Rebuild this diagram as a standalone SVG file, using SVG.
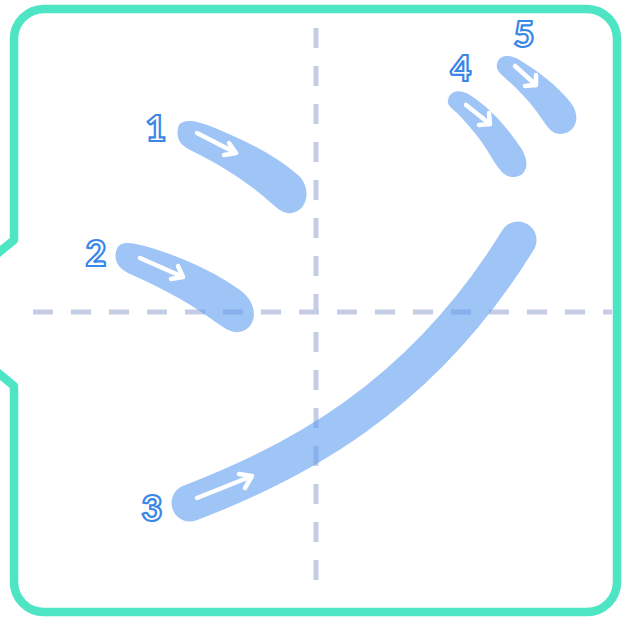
<svg xmlns="http://www.w3.org/2000/svg" width="623" height="617" viewBox="0 0 623 617">
<style>
.frame{fill:#ffffff;stroke:#4de5c4;stroke-width:8.5;stroke-linejoin:round}
.guide{fill:none;stroke:#c5cce5;stroke-width:5;stroke-dasharray:20 18}
.brush{fill:#5f9cf0;fill-opacity:0.6}
.brushline{fill:none;stroke:#5f9cf0;stroke-opacity:0.6;stroke-width:37;stroke-linecap:round}
.arrow{fill:none;stroke:#ffffff;stroke-width:4.5;stroke-linecap:round;stroke-linejoin:round}
.num{font-family:Lato,"DejaVu Sans",sans-serif;font-weight:900;font-size:36px;fill:#ffffff;stroke:#3a87e8;stroke-width:2.2;text-anchor:middle}
</style>
<g id="frame">
<path class="frame" d="M44,9 H587 A30,30 0 0 1 617,39 V582 A30,30 0 0 1 587,612 H44 A30,30 0 0 1 14,582 V386 L-8,368 V258 L14,240 V39 A30,30 0 0 1 44,9 Z"/>
</g>
<g id="guides">
<line class="guide" x1="316" y1="28" x2="316" y2="596"/>
<line class="guide" x1="33" y1="312" x2="612" y2="312"/>
</g>
<g id="stroke-1">
<path class="brush" d="M178,128 C180,118 195,120 210,126 C245,140 275,155 298,175 C312,188 308,210 292,213 C282,215 274,205 262,195 C240,177 215,162 190,150 C180,145 176,138 178,128 Z"/>
<path class="arrow" d="M197,133 L236,153 M229,143 L236,153 L224,155"/>
<text class="num" x="156" y="141">1</text>
</g>
<g id="stroke-2">
<path class="brush" d="M116,252 C118,240 130,242 145,246 C180,256 215,272 240,290 C258,303 258,325 243,331 C232,335 224,328 210,318 C185,300 155,285 128,273 C118,268 114,260 116,252 Z"/>
<path class="arrow" d="M140,258 L183,277 M178,266 L183,277 L171,279"/>
<text class="num" x="96" y="266">2</text>
</g>
<g id="stroke-3">
<path class="brushline" d="M190,503 C290,465 420,400 518,240"/>
<path class="arrow" d="M197,498 L252,476 M239,474 L252,476 L245,488"/>
<text class="num" x="152" y="521">3</text>
</g>
<g id="stroke-4">
<path class="brush" d="M448,100 C450,90 460,89 470,95 C490,108 507,127 521,148 C532,165 525,178 512,177 C503,176 498,168 490,155 C480,138 468,124 456,112 C450,107 447,104 448,100 Z"/>
<path class="arrow" d="M466,105 L490,124 M489,113 L490,124 L479,125"/>
<text class="num" x="461" y="81">4</text>
</g>
<g id="stroke-5">
<path class="brush" d="M497,64 C499,55 508,54 518,59 C538,71 558,86 571,103 C582,118 575,134 560,134 C550,134 546,124 537,112 C527,98 514,86 503,76 C498,72 496,68 497,64 Z"/>
<path class="arrow" d="M515,66 L536,85 M536,75 L536,85 L525,86"/>
<text class="num" x="524" y="47">5</text>
</g>
</svg>
